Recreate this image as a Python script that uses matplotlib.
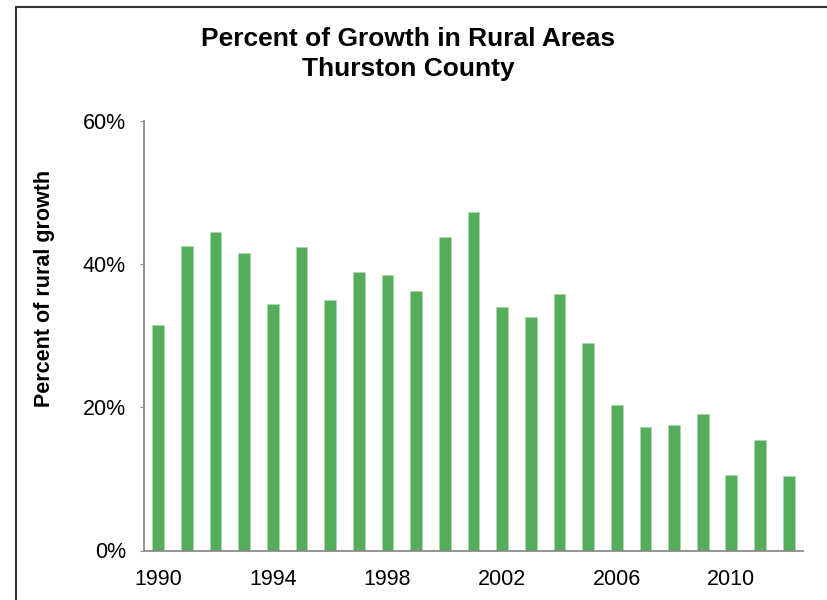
import matplotlib
matplotlib.use("Agg")
import matplotlib.pyplot as plt
from matplotlib.lines import Line2D

# Percent of growth in rural areas, Thurston County
years = list(range(1990, 2013))
rural_pct = [31.5, 42.5, 44.5, 41.6, 34.5, 42.4, 35.0, 38.9, 38.5, 36.3, 43.8, 47.3,
             34.0, 32.6, 35.8, 29.0, 20.3, 17.3, 17.5, 19.0, 10.5, 15.5, 10.4]
label_years = [1990, 1994, 1998, 2002, 2006, 2010]
y_ticks = [0, 20, 40, 60]

plt.rcParams['font.family'] = ['Liberation Sans', 'DejaVu Sans']

fig = plt.figure(figsize=(8.28, 6.0), dpi=100)
ax = fig.add_axes([0.1739, 0.0825, 0.7959, 0.7158])

x = range(len(years))
ax.bar(x, rural_pct, width=0.41, color='#55ad5b', edgecolor='#a8d8aa', linewidth=0.6)

ax.set_xlim(-0.5, len(years) - 0.5)
ax.set_ylim(0, 60)
ax.set_yticks(y_ticks)
ax.set_yticklabels([f"{v}%" for v in y_ticks])
ax.set_xticks([years.index(y) for y in label_years])
ax.set_xticklabels([str(y) for y in label_years])

ax.tick_params(axis='x', length=0, labelsize=15.5, pad=13)
ax.tick_params(axis='y', length=3, color='#8c8c8c', labelsize=15.5, pad=10)

for side in ['top', 'right']:
    ax.spines[side].set_visible(False)
for side in ['left', 'bottom']:
    ax.spines[side].set_color('#8c8c8c')
    ax.spines[side].set_linewidth(1.3)

ax.set_ylabel('Percent of rural growth', fontsize=15.5, fontweight='bold')
# label sits a bit above the axes centre in the original
ax.yaxis.set_label_coords((55 - 144) / 659, (550.5 - 288) / 429.5)

fig.text(0.493, 0.91, 'Percent of Growth in Rural Areas\nThurston County',
         ha='center', va='center', fontsize=19, fontweight='bold', linespacing=1.27)

# chart border (cropped at right and bottom)
fig.add_artist(Line2D([16 / 828, 16 / 828], [0, 1 - 6.5 / 600], transform=fig.transFigure,
                      color='#333333', linewidth=1.5))
fig.add_artist(Line2D([16 / 828, 1], [1 - 6.5 / 600, 1 - 6.5 / 600], transform=fig.transFigure,
                      color='#333333', linewidth=1.5))

fig.savefig('out.png', dpi=100)
